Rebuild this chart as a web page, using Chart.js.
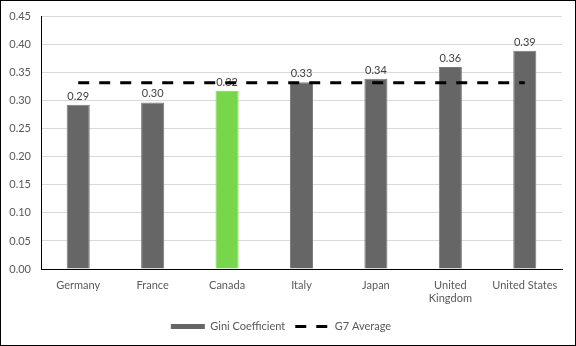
<!DOCTYPE html>
<html>
<head>
<meta charset="utf-8">
<script src="https://cdn.jsdelivr.net/npm/chart.js@4"></script>
<style>
  html, body { margin: 0; padding: 0; background: #fff; }
  #wrap { width: 576px; height: 346px; position: relative; }
</style>
</head>
<body>
<div id="wrap"><canvas id="chart" width="576" height="346"></canvas></div>
<script>
// Gini coefficient, G7 countries
const countries = ['Germany', 'France', 'Canada', 'Italy', 'Japan', ['United', 'Kingdom'], 'United States'];
const giniValues = [0.293, 0.297, 0.318, 0.333, 0.339, 0.360, 0.389];
const g7Average = [0.332, 0.332, 0.332, 0.332, 0.332, 0.332, 0.332];
const barColors = ['#666666', '#666666', '#77D64A', '#666666', '#666666', '#666666', '#666666'];

const FONT = 'Lato, "Liberation Sans", sans-serif';

// value labels above the bars, drawn before the dashed line goes on top
const barLabels = {
  id: 'barLabels',
  afterDatasetDraw(chart, args) {
    if (args.index !== 0) return;
    const ctx = chart.ctx;
    ctx.save();
    ctx.font = '11px ' + FONT;
    ctx.fillStyle = '#404040';
    ctx.textAlign = 'center';
    ctx.textBaseline = 'bottom';
    args.meta.data.forEach((bar, i) => {
      ctx.fillText(giniValues[i].toFixed(2), bar.x, bar.y - 3);
    });
    ctx.restore();
  }
};

const frame = {
  id: 'frame',
  afterDraw(chart) {
    const ctx = chart.ctx;
    ctx.save();
    ctx.strokeStyle = '#000';
    ctx.lineWidth = 1;
    ctx.strokeRect(0.5, 0.5, chart.width - 1, chart.height - 1);
    ctx.restore();
  }
};

new Chart(document.getElementById('chart'), {
  type: 'bar',
  data: {
    labels: countries,
    datasets: [{
      type: 'bar',
      label: 'Gini Coefficient',
      data: giniValues,
      backgroundColor: barColors,
      borderColor: barColors.map(c => c === '#666666' ? '#7a7a7a' : c),
      borderWidth: 1,
      barPercentage: 0.31,
      categoryPercentage: 1,
      order: 2
    }, {
      type: 'line',
      label: 'G7 Average',
      data: g7Average,
      borderColor: '#000',
      backgroundColor: '#000',
      borderWidth: 3,
      borderDash: [11, 10],
      pointRadius: 0,
      fill: false,
      order: 1
    }]
  },
  options: {
    responsive: false,
    animation: false,
    layout: { padding: { top: 14, right: 14, bottom: 4, left: 0 } },
    plugins: {
      tooltip: { enabled: false },
      legend: {
        position: 'bottom',
        labels: {
          color: '#595959',
          font: { family: FONT, size: 11 },
          usePointStyle: true,
          pointStyleWidth: 34,
          boxHeight: 5,
          padding: 10,
          generateLabels(chart) {
            return [{
              text: 'Gini Coefficient', fillStyle: '#666666', strokeStyle: '#666666',
              lineWidth: 0, pointStyle: 'rect', datasetIndex: 0, fontColor: '#595959'
            }, {
              text: 'G7 Average', fillStyle: '#000', strokeStyle: '#000',
              lineWidth: 3, lineDash: [11, 10], pointStyle: 'line', datasetIndex: 1, fontColor: '#595959'
            }];
          }
        }
      }
    },
    scales: {
      x: {
        grid: { display: false },
        border: { color: '#000' },
        ticks: { color: '#595959', font: { family: FONT, size: 11 }, padding: 2, maxRotation: 0, autoSkip: false },
        afterFit(scale) { scale.height = 42; }
      },
      y: {
        min: 0,
        max: 0.45,
        grid: { color: '#d9d9d9', drawTicks: false },
        border: { color: '#000' },
        ticks: {
          stepSize: 0.05,
          color: '#595959',
          font: { family: FONT, size: 11 },
          padding: 10,
          callback: v => v.toFixed(2)
        },
        afterFit(scale) { scale.width = 41; }
      }
    }
  },
  plugins: [barLabels, frame]
});
</script>
</body>
</html>
